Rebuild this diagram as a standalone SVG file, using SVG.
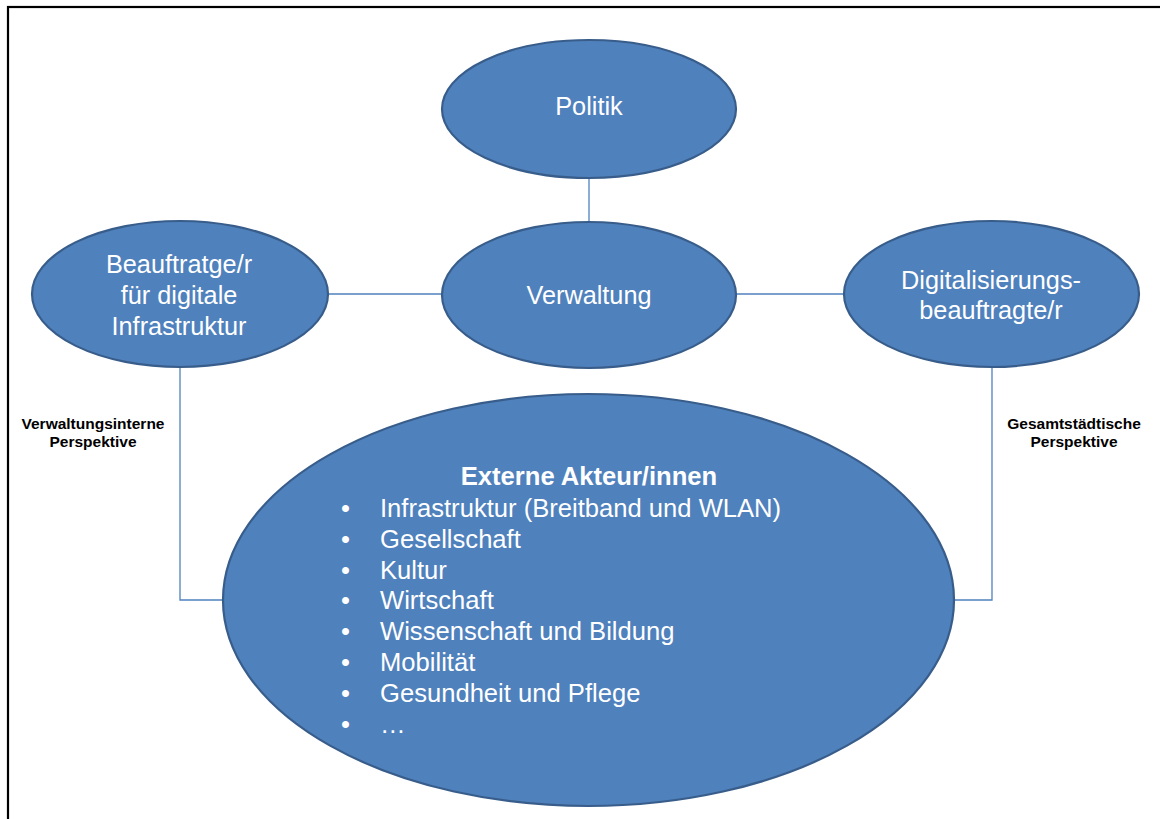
<svg xmlns="http://www.w3.org/2000/svg" width="1160" height="819" viewBox="0 0 1160 819">
<style>
.node{fill:#4F81BD;stroke:#385D8A;stroke-width:2.2}
.conn{fill:none;stroke:#4F81BD;stroke-width:1.3}
.lbl{font-family:"Liberation Sans",Arial,sans-serif;font-size:25.3px;fill:#FFFFFF;text-anchor:middle}
.item{font-family:"Liberation Sans",Arial,sans-serif;font-size:25.6px;fill:#FFFFFF}
.side{font-family:"Liberation Sans",Arial,sans-serif;font-size:15.5px;font-weight:bold;fill:#000000;text-anchor:middle}
</style>
<rect x="0" y="0" width="1160" height="819" fill="#FFFFFF"/>
<rect x="8" y="7" width="1170" height="830" fill="none" stroke="#000000" stroke-width="2.2"/>
<g id="connectors">
<line class="conn" x1="589" y1="178" x2="589" y2="222"/>
<line class="conn" x1="327" y1="294" x2="442" y2="294"/>
<line class="conn" x1="736" y1="294" x2="844" y2="294"/>
<polyline class="conn" points="180,367 180,600 223,600"/>
<polyline class="conn" points="992,367 992,600 954,600"/>
</g>
<g id="politik">
<ellipse class="node" cx="589" cy="109" rx="147" ry="69"/>
<text class="lbl" x="589" y="115">Politik</text>
</g>
<g id="verwaltung">
<ellipse class="node" cx="589" cy="295" rx="147" ry="73"/>
<text class="lbl" x="589" y="304">Verwaltung</text>
</g>
<g id="beauftragte">
<ellipse class="node" cx="180" cy="294" rx="148" ry="73"/>
<text class="lbl" x="179" y="273">Beauftratge/r</text>
<text class="lbl" x="179" y="304">für digitale</text>
<text class="lbl" x="179" y="335">Infrastruktur</text>
</g>
<g id="digitalisierung">
<ellipse class="node" cx="991.5" cy="294" rx="147.5" ry="73"/>
<text class="lbl" x="991" y="289">Digitalisierungs-</text>
<text class="lbl" x="991" y="319">beauftragte/r</text>
</g>
<g id="externe">
<ellipse class="node" cx="588.5" cy="600" rx="365.5" ry="206"/>
<text class="item" x="589" y="485" font-weight="bold" text-anchor="middle">Externe Akteur/innen</text>
<g class="item">
<text x="341" y="517">•</text><text x="380" y="517">Infrastruktur (Breitband und WLAN)</text>
<text x="341" y="548">•</text><text x="380" y="548">Gesellschaft</text>
<text x="341" y="578.5">•</text><text x="380" y="578.5">Kultur</text>
<text x="341" y="609">•</text><text x="380" y="609">Wirtschaft</text>
<text x="341" y="640">•</text><text x="380" y="640">Wissenschaft und Bildung</text>
<text x="341" y="671">•</text><text x="380" y="671">Mobilität</text>
<text x="341" y="702">•</text><text x="380" y="702">Gesundheit und Pflege</text>
<text x="341" y="733">•</text><text x="380" y="733">…</text>
</g>
</g>
<g id="label-intern">
<text class="side" x="93" y="429">Verwaltungsinterne</text>
<text class="side" x="93" y="447">Perspektive</text>
</g>
<g id="label-gesamt">
<text class="side" x="1074" y="429">Gesamtstädtische</text>
<text class="side" x="1074" y="447">Perspektive</text>
</g>
</svg>
